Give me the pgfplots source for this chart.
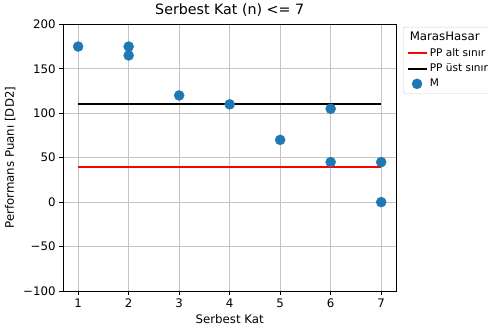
\documentclass[border=0pt]{standalone}
\usepackage{pgfplots}
\pgfplotsset{compat=1.18}
\usepackage{fontspec}
\setmainfont{DejaVu Sans}
\definecolor{tabblue}{HTML}{1F77B4}
\definecolor{gridgray}{HTML}{C4C4C4}
\begin{document}
\begin{tikzpicture}
\begin{axis}[
  at={(0,0)}, anchor=south west,
  scale only axis,
  width=300pt, height=240pt,
  xmin=0.7, xmax=7.3,
  ymin=-100, ymax=200,
  xtick={1,2,3,4,5,6,7},
  ytick={-100,-50,0,50,100,150,200},
  yticklabels={−100,−50,0,50,100,150,200},
  /pgf/number format/assume math mode=true,
  tick label style={font=\fontsize{10.6}{12}\selectfont},
  label style={font=\fontsize{10.6}{12}\selectfont},
  title style={font=\fontsize{12.8}{14}\selectfont, yshift=-2pt},
  title={Serbest Kat (n) <= 7},
  xlabel={Serbest Kat},
  ylabel={Performans Puanı [DD2]},
  grid=major,
  major grid style={gridgray, line width=0.6pt},
  axis line style={line width=0.7pt},
  tick align=outside,
  xtick pos=bottom, ytick pos=left,
  major tick length=3.2pt,
  tick style={black, line width=0.7pt},
  legend style={at={(1.02,0.99)}, anchor=north west, draw=gray!40, rounded corners=2pt,
    font=\fontsize{9.5}{11}\selectfont, inner xsep=3pt, inner ysep=2.5pt,
    row sep=1.2pt},
  legend cell align=left,
]
\addlegendimage{empty legend}
\addlegendentry{\hspace{-18pt}\fontsize{10.6}{12}\selectfont MarasHasar}
\addplot[red, line width=1.8pt] coordinates {(1,40) (7,40)};
\addlegendentry{PP alt sınır}
\addplot[black, line width=1.8pt] coordinates {(1,110) (7,110)};
\addlegendentry{PP üst sınır}
\addplot[only marks, mark=*, mark size=4.5pt, tabblue, mark options={draw=tabblue, fill=tabblue}] coordinates {
(1,175) (2,175) (2,165) (3,120) (4,110) (5,70) (6,105) (6,45) (7,45) (7,0)
};
\addlegendentry{M}
\end{axis}
\pgfresetboundingbox
\path (-56.7pt,-36.9pt) rectangle (382.5pt,261.9pt);
\end{tikzpicture}
\end{document}
